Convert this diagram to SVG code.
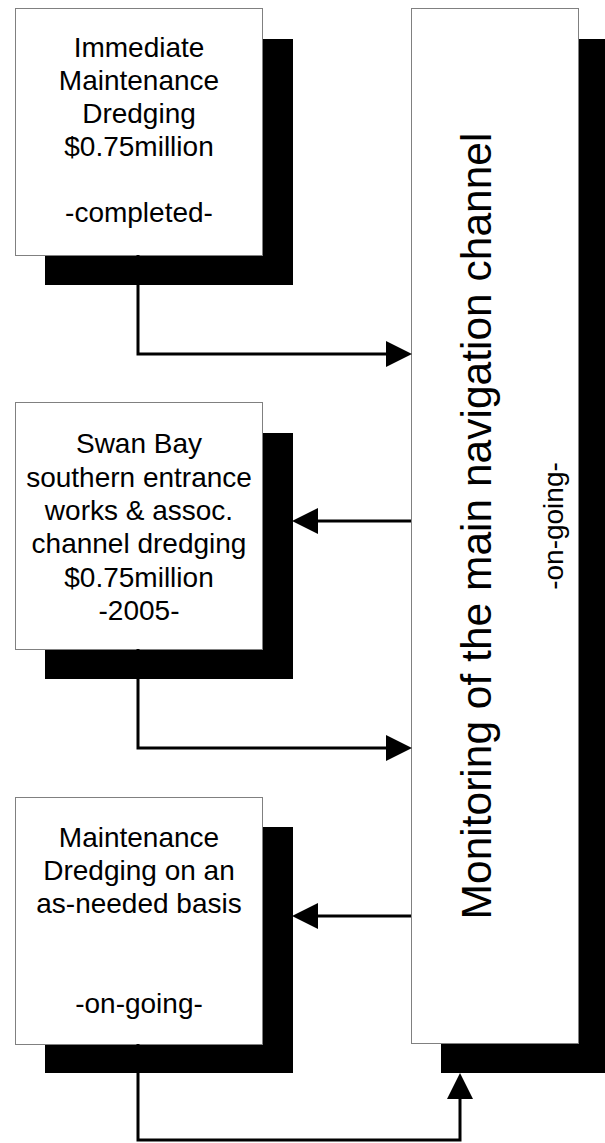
<svg xmlns="http://www.w3.org/2000/svg" width="605" height="1143" viewBox="0 0 605 1143">
<style>
.box{fill:#fff;stroke:#808080;stroke-width:1}
.sh{fill:#000}
.t{font-family:"Liberation Sans",Arial,sans-serif;font-size:28px;fill:#000;text-anchor:middle}
.big{font-family:"Liberation Sans",Arial,sans-serif;font-size:42.5px;fill:#000;text-anchor:middle}
.c{fill:none;stroke:#000;stroke-width:3}
</style>
<defs>
<marker id="ah" markerUnits="userSpaceOnUse" markerWidth="26" markerHeight="26" refX="0" refY="12.5" orient="auto" viewBox="0 0 25 25">
<path d="M0,0 L25,12.5 L0,25 Z" fill="#000"/>
</marker>
</defs>
<rect width="605" height="1143" fill="#fff"/>
<g id="monitor">
<rect class="sh" x="441" y="39" width="164" height="1034"/>
<rect class="box" x="411.5" y="8.5" width="167" height="1035"/>
<text class="big" transform="translate(491,526) rotate(-90)">Monitoring of the main navigation channel</text>
<text class="t" transform="translate(563,526) rotate(-90)">-on-going-</text>
</g>
<g id="box1">
<rect class="sh" x="45" y="39" width="248" height="246"/>
<rect class="box" x="15.5" y="8.5" width="247" height="247"/>
<text class="t" x="139" y="57">Immediate</text>
<text class="t" x="139" y="90">Maintenance</text>
<text class="t" x="139" y="123">Dredging</text>
<text class="t" x="139" y="156">$0.75million</text>
<text class="t" x="139" y="222">-completed-</text>
</g>
<g id="box2">
<rect class="sh" x="45" y="433" width="248" height="246"/>
<rect class="box" x="15.5" y="402.5" width="247" height="247"/>
<text class="t" x="139" y="453">Swan Bay</text>
<text class="t" x="139" y="487">southern entrance</text>
<text class="t" x="139" y="520">works &amp; assoc.</text>
<text class="t" x="139" y="553">channel dredging</text>
<text class="t" x="139" y="587">$0.75million</text>
<text class="t" x="139" y="620">-2005-</text>
</g>
<g id="box3">
<rect class="sh" x="45" y="827" width="248" height="246"/>
<rect class="box" x="15.5" y="797.5" width="247" height="247"/>
<text class="t" x="139" y="847">Maintenance</text>
<text class="t" x="139" y="880">Dredging on an</text>
<text class="t" x="139" y="913">as-needed basis</text>
<text class="t" x="139" y="1013">-on-going-</text>
</g>
<g id="connectors">
<path class="c" d="M138,255 V354 H386" marker-end="url(#ah)"/>
<path class="c" d="M138,649 V748 H386" marker-end="url(#ah)"/>
<path class="c" d="M411,521 H318" marker-end="url(#ah)"/>
<path class="c" d="M411,916 H318" marker-end="url(#ah)"/>
<path class="c" d="M138,1044 V1140 H460 V1099" marker-end="url(#ah)"/>
</g>
</svg>
